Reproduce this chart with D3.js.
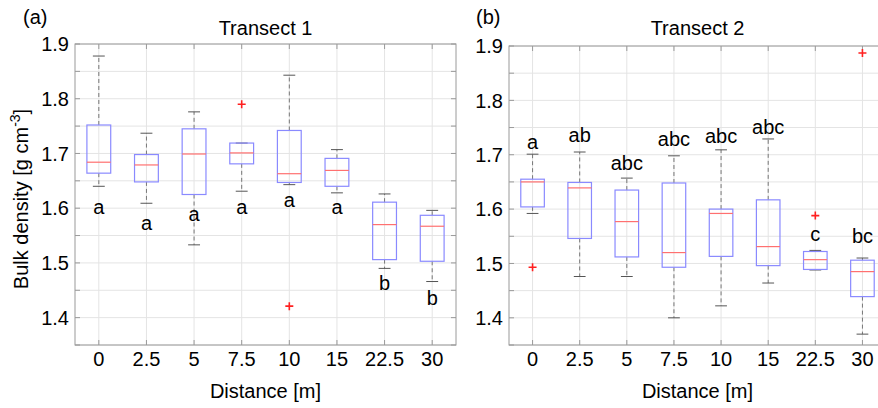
<!DOCTYPE html>
<html>
<head>
<meta charset="utf-8">
<script src="https://cdn.jsdelivr.net/npm/d3@7"></script>
<style>
  body { margin: 0; background: #fff; }
  svg { display: block; font-family: "Liberation Sans", Arial, Helvetica, sans-serif; }
  .grid line { stroke: #e4e4e4; stroke-width: 1; }
  .frame { fill: none; stroke: #9a9a9a; stroke-width: 1; }
  .tick-mark { stroke: #9a9a9a; stroke-width: 1; }
  .box { fill: none; stroke: #8a8aff; stroke-width: 1.2; }
  .median { stroke: #ff7070; stroke-width: 1.2; }
  .whisker { stroke: #777; stroke-width: 1; stroke-dasharray: 4,3; }
  .cap { stroke: #555; stroke-width: 1; }
  .outlier { stroke: #ff2020; stroke-width: 1.6; fill: none; }
  text { fill: #000; font-size: 20px; }
</style>
</head>
<body>
<div id="chart"></div>
<script>
'use strict';

// Categories shared by both transects.
var distances = ['0', '2.5', '5', '7.5', '10', '15', '22.5', '30'];
var yTicks = [1.4, 1.5, 1.6, 1.7, 1.8, 1.9];
var yMinorTicks = [1.35, 1.4, 1.45, 1.5, 1.55, 1.6, 1.65, 1.7, 1.75, 1.8, 1.85, 1.9];

// Transect 1 box statistics.
var t1Lower  = [1.640, 1.609, 1.533, 1.631, 1.643, 1.628, 1.490, 1.466];
var t1Q1     = [1.664, 1.648, 1.625, 1.681, 1.647, 1.640, 1.506, 1.503];
var t1Median = [1.684, 1.679, 1.699, 1.701, 1.663, 1.669, 1.570, 1.567];
var t1Q3     = [1.752, 1.698, 1.745, 1.719, 1.742, 1.691, 1.611, 1.587];
var t1Upper  = [1.878, 1.737, 1.776, 1.719, 1.843, 1.707, 1.626, 1.596];
var t1Outliers = [[3, 1.790], [4, 1.421]];
var t1Letters = ['a', 'a', 'a', 'a', 'a', 'a', 'b', 'b'];
var t1LetterY = [1.603, 1.574, 1.590, 1.603, 1.616, 1.603, 1.464, 1.437];

// Transect 2 box statistics.
var t2Lower  = [1.592, 1.476, 1.476, 1.400, 1.422, 1.464, 1.488, 1.370];
var t2Q1     = [1.604, 1.546, 1.512, 1.493, 1.513, 1.496, 1.489, 1.439];
var t2Median = [1.650, 1.639, 1.577, 1.520, 1.592, 1.531, 1.507, 1.485];
var t2Q3     = [1.655, 1.649, 1.635, 1.648, 1.600, 1.617, 1.522, 1.506];
var t2Upper  = [1.701, 1.705, 1.657, 1.698, 1.709, 1.729, 1.524, 1.510];
var t2Outliers = [[0, 1.493], [6, 1.588], [7, 1.887]];
var t2Letters = ['a', 'ab', 'abc', 'abc', 'abc', 'abc', 'c', 'bc'];
var t2LetterY = [1.724, 1.737, 1.685, 1.729, 1.734, 1.751, 1.555, 1.550];

var width = 878;
var height = 408;

var svg = d3.select('#chart').append('svg')
    .attr('width', width)
    .attr('height', height);

function rows(lower, q1, median, q3, upper) {
    return distances.map(function(d, i) {
        return {dist: d, lower: lower[i], q1: q1[i], median: median[i], q3: q3[i], upper: upper[i]};
    });
}

function drawPanel(opts) {
    var g = svg.append('g');
    var x = d3.scaleBand().domain(distances).range([opts.left, opts.right]).padding(0);
    var y = d3.scaleLinear().domain([1.35, 1.9]).range([opts.bottom, opts.top]);
    var bw = x.bandwidth();
    var cx = function(d) { return x(d) + bw / 2; };

    g.append('defs').append('clipPath').attr('id', opts.id + '-clip')
        .append('rect')
        .attr('x', opts.left).attr('y', opts.top)
        .attr('width', opts.right - opts.left).attr('height', opts.bottom - opts.top);

    // Grid lines, major and minor.
    var grid = g.append('g').attr('class', 'grid');
    grid.selectAll('.gy').data(yMinorTicks).enter().append('line')
        .attr('x1', opts.left).attr('x2', opts.right)
        .attr('y1', function(d) { return y(d); })
        .attr('y2', function(d) { return y(d); });
    grid.selectAll('.gx').data(distances).enter().append('line')
        .attr('x1', cx).attr('x2', cx)
        .attr('y1', opts.top).attr('y2', opts.bottom);

    // Frame and inward ticks.
    g.append('rect').attr('class', 'frame')
        .attr('x', opts.left).attr('y', opts.top)
        .attr('width', opts.right - opts.left).attr('height', opts.bottom - opts.top);

    var ticks = g.append('g');
    yMinorTicks.forEach(function(v) {
        ticks.append('line').attr('class', 'tick-mark')
            .attr('x1', opts.left).attr('x2', opts.left + 5)
            .attr('y1', y(v)).attr('y2', y(v));
        ticks.append('line').attr('class', 'tick-mark')
            .attr('x1', opts.right).attr('x2', opts.right - 5)
            .attr('y1', y(v)).attr('y2', y(v));
    });
    distances.forEach(function(d) {
        ticks.append('line').attr('class', 'tick-mark')
            .attr('x1', cx(d)).attr('x2', cx(d))
            .attr('y1', opts.bottom).attr('y2', opts.bottom - 5);
        ticks.append('line').attr('class', 'tick-mark')
            .attr('x1', cx(d)).attr('x2', cx(d))
            .attr('y1', opts.top).attr('y2', opts.top + 5);
    });

    // Tick labels.
    g.selectAll('.ylab').data(yTicks).enter().append('text')
        .attr('x', opts.left - 6)
        .attr('y', function(d) { return y(d); })
        .attr('dy', '0.36em')
        .attr('text-anchor', 'end')
        .text(function(d) { return d3.format('.1f')(d); });

    g.selectAll('.xlab').data(distances).enter().append('text')
        .attr('x', cx)
        .attr('y', opts.bottom + 21)
        .attr('text-anchor', 'middle')
        .text(function(d) { return d; });

    // Boxes.
    var plot = g.append('g').attr('clip-path', 'url(#' + opts.id + '-clip)');
    var boxes = plot.selectAll('.bx').data(opts.data).enter().append('g');
    var halfBox = bw * 0.25;
    var halfCap = bw * 0.125;

    boxes.append('line').attr('class', 'whisker')
        .attr('x1', function(d) { return cx(d.dist); })
        .attr('x2', function(d) { return cx(d.dist); })
        .attr('y1', function(d) { return y(d.q3); })
        .attr('y2', function(d) { return y(d.upper); });
    boxes.append('line').attr('class', 'whisker')
        .attr('x1', function(d) { return cx(d.dist); })
        .attr('x2', function(d) { return cx(d.dist); })
        .attr('y1', function(d) { return y(d.q1); })
        .attr('y2', function(d) { return y(d.lower); });
    ['upper', 'lower'].forEach(function(k) {
        boxes.append('line').attr('class', 'cap')
            .attr('x1', function(d) { return cx(d.dist) - halfCap; })
            .attr('x2', function(d) { return cx(d.dist) + halfCap; })
            .attr('y1', function(d) { return y(d[k]); })
            .attr('y2', function(d) { return y(d[k]); });
    });
    boxes.append('rect').attr('class', 'box')
        .attr('x', function(d) { return cx(d.dist) - halfBox; })
        .attr('width', halfBox * 2)
        .attr('y', function(d) { return y(d.q3); })
        .attr('height', function(d) { return y(d.q1) - y(d.q3); });
    boxes.append('line').attr('class', 'median')
        .attr('x1', function(d) { return cx(d.dist) - halfBox; })
        .attr('x2', function(d) { return cx(d.dist) + halfBox; })
        .attr('y1', function(d) { return y(d.median); })
        .attr('y2', function(d) { return y(d.median); });

    // Outliers as red plus signs.
    plot.selectAll('.out').data(opts.outliers).enter().append('path')
        .attr('class', 'outlier')
        .attr('d', function(d) {
            var px = cx(distances[d[0]]), py = y(d[1]);
            return 'M' + (px - 4) + ',' + py + 'H' + (px + 4) +
                'M' + px + ',' + (py - 4) + 'V' + (py + 4);
        });

    // Significance letters.
    g.selectAll('.letter').data(opts.letters).enter().append('text')
        .attr('x', function(d, i) { return cx(distances[i]); })
        .attr('y', function(d, i) { return y(opts.letterY[i]); })
        .attr('dy', '0.36em')
        .attr('text-anchor', 'middle')
        .text(function(d) { return d; });

    // Titles and axis label.
    var mid = (opts.left + opts.right) / 2;
    g.append('text').attr('x', mid).attr('y', 35)
        .attr('text-anchor', 'middle').text(opts.title);
    g.append('text').attr('x', mid).attr('y', 398)
        .attr('text-anchor', 'middle').text('Distance [m]');
    g.append('text').attr('x', opts.tagX).attr('y', 24).text(opts.tag);
}

drawPanel({
    id: 'p1', left: 75, right: 456, top: 44, bottom: 345,
    title: 'Transect 1', tag: '(a)', tagX: 23,
    data: rows(t1Lower, t1Q1, t1Median, t1Q3, t1Upper),
    outliers: t1Outliers, letters: t1Letters, letterY: t1LetterY
});

drawPanel({
    id: 'p2', left: 509, right: 886, top: 46, bottom: 345,
    title: 'Transect 2', tag: '(b)', tagX: 476,
    data: rows(t2Lower, t2Q1, t2Median, t2Q3, t2Upper),
    outliers: t2Outliers, letters: t2Letters, letterY: t2LetterY
});

// Shared y axis label with superscript.
var ylab = svg.append('text')
    .attr('transform', 'translate(28,199) rotate(-90)')
    .attr('text-anchor', 'middle');
ylab.append('tspan').text('Bulk density [g cm');
ylab.append('tspan').attr('font-size', '14px').attr('dy', '-8').text('-3');
ylab.append('tspan').attr('dy', '8').text(']');
</script>
</body>
</html>
